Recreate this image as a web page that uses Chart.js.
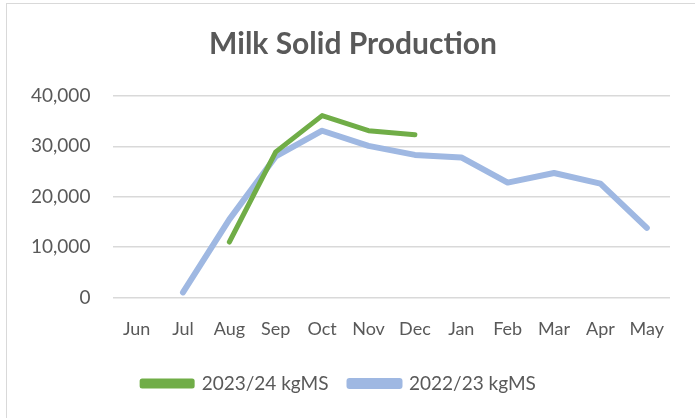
<!DOCTYPE html>
<html>
<head>
<meta charset="utf-8">
<script src="https://cdn.jsdelivr.net/npm/chart.js@4"></script>
<style>
  body { margin: 0; background: #fff; overflow: hidden; }
  #frame { position: absolute; left: 6px; top: 3px; width: 720px; height: 440px; border: 1px solid #d9d9d9; }
  #chart { position: absolute; left: 0; top: 0; }
</style>
</head>
<body>
<div id="frame"></div>
<canvas id="chart" width="695" height="418"></canvas>
<script>
// data
const months = ["Jun", "Jul", "Aug", "Sep", "Oct", "Nov", "Dec", "Jan", "Feb", "Mar", "Apr", "May"];
const season2324 = [null, null, 11000, 28900, 36100, 33100, 32300, null, null, null, null, null];
const season2223 = [null, 1000, 15500, 28000, 33100, 30100, 28300, 27800, 22800, 24700, 22600, 13800];
const yTicks = [0, 10000, 20000, 30000, 40000];

const FONT = "Lato, 'Open Sans', sans-serif";
const TEXT = "#595959";

// the original title sits centred on the whole frame, not on the padded box
const shiftTitle = {
  id: "shiftTitle",
  afterLayout(chart) {
    if (!chart.titleBlock) return;
    chart.titleBlock.left += 14;
    chart.titleBlock.right += 14;
  },
};

new Chart("chart", {
  type: "line",
  data: {
    labels: months,
    datasets: [
      {
        label: "2023/24 kgMS",
        data: season2324,
        borderColor: "#70ad47",
        backgroundColor: "#70ad47",
        borderWidth: 5,
        pointRadius: 0,
        borderCapStyle: "round",
        borderJoinStyle: "round",
        tension: 0,
      },
      {
        label: "2022/23 kgMS",
        data: season2223,
        borderColor: "#9fb8e2",
        backgroundColor: "#9fb8e2",
        borderWidth: 6,
        pointRadius: 0,
        borderCapStyle: "round",
        borderJoinStyle: "round",
        tension: 0,
      },
    ],
  },
  options: {
    responsive: false,
    animation: false,
    layout: { padding: { left: 8, right: 25, top: 0, bottom: 15 } },
    plugins: {
      title: {
        display: true,
        text: "Milk Solid Production",
        color: TEXT,
        font: { family: FONT, size: 30, weight: "bold" },
        padding: { top: 26, bottom: 34 },
      },
      legend: {
        position: "bottom",
        labels: {
          color: TEXT,
          font: { family: FONT, size: 19 },
          boxWidth: 50,
          boxHeight: 5,
          padding: 21,
        },
      },
      tooltip: { enabled: false },
    },
    scales: {
      x: {
        offset: true,
        grid: { display: false },
        border: { display: false },
        ticks: { color: TEXT, font: { family: FONT, size: 18 }, padding: 13, maxRotation: 0 },
      },
      y: {
        min: 0,
        max: 40000,
        afterBuildTicks: (axis) => { axis.ticks = yTicks.map((v) => ({ value: v })); },
        grid: { color: "#d9d9d9", lineWidth: 1.5, drawTicks: false },
        border: { display: false },
        ticks: {
          color: TEXT,
          font: { family: FONT, size: 19 },
          padding: 23,
          callback: (v) => v.toLocaleString("en-US"),
        },
      },
    },
  },
  plugins: [shiftTitle],
});
</script>
</body>
</html>
